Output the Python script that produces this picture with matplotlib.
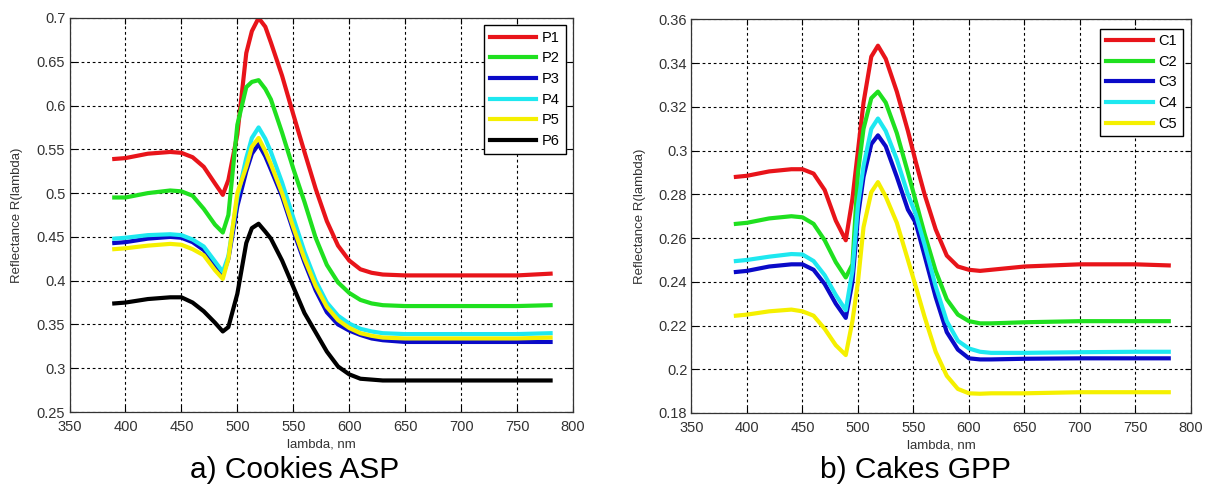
import matplotlib
matplotlib.use("Agg")
import matplotlib.pyplot as plt

plt.rcParams['font.family'] = ['Liberation Sans', 'DejaVu Sans']

# a) Cookies ASP
wl_a = [390, 400, 420, 440, 450, 460, 470, 480, 487, 492, 500, 508, 513, 519, 525,
        530, 540, 550, 560, 570, 580, 590, 600, 610, 620, 630, 650, 700, 750, 780]
P1 = [.539, .540, .545, .547, .546, .541, .530, .511, .498, .515, .567, .660, .685, .700, .690,
      .672, .634, .590, .547, .505, .468, .440, .423, .413, .409, .407, .406, .406, .406, .408]
P2 = [.495, .495, .500, .503, .502, .497, .482, .464, .455, .475, .578, .621, .627, .629, .619,
      .607, .569, .528, .490, .449, .418, .398, .386, .378, .374, .372, .371, .371, .371, .372]
P3 = [.443, .444, .448, .450, .449, .444, .435, .418, .407, .425, .485, .525, .545, .556, .542,
      .527, .496, .457, .421, .389, .364, .350, .343, .338, .334, .332, .330, .330, .330, .330]
P4 = [.448, .449, .452, .453, .452, .447, .439, .422, .410, .428, .495, .540, .563, .575, .562,
      .547, .512, .472, .433, .400, .375, .360, .351, .345, .342, .340, .339, .339, .339, .340]
P5 = [.436, .437, .440, .442, .441, .436, .429, .412, .402, .425, .500, .530, .553, .563, .548,
      .533, .500, .461, .425, .394, .370, .355, .346, .340, .337, .335, .334, .334, .334, .335]
P6 = [.374, .375, .379, .381, .381, .375, .365, .352, .342, .347, .385, .443, .460, .465, .456,
      .448, .423, .393, .363, .341, .319, .302, .293, .288, .287, .286, .286, .286, .286, .286]
names_a = ['P1', 'P2', 'P3', 'P4', 'P5', 'P6']
yticks_a = [0.25, 0.3, 0.35, 0.4, 0.45, 0.5, 0.55, 0.6, 0.65, 0.7]
ylabels_a = ['0.25', '0.3', '0.35', '0.4', '0.45', '0.5', '0.55', '0.6', '0.65', '0.7']

# b) Cakes GPP
wl_b = [390, 400, 420, 440, 450, 460, 470, 480, 489, 495, 500, 505, 512, 518, 525,
        535, 545, 552, 560, 570, 580, 590, 600, 610, 620, 650, 700, 750, 780]
C1 = [.288, .2885, .2905, .2915, .2915, .2895, .282, .268, .259, .278, .300, .322, .343, .348, .342,
      .327, .309, .295, .280, .264, .252, .247, .2455, .245, .2455, .247, .248, .248, .2475]
C2 = [.2665, .267, .269, .270, .2695, .2665, .259, .249, .242, .248, .290, .310, .324, .327, .322,
      .308, .290, .277, .262, .245, .232, .225, .222, .221, .221, .2215, .222, .222, .222]
C3 = [.2445, .245, .247, .248, .248, .2455, .239, .230, .2235, .240, .270, .288, .303, .307, .302,
      .288, .273, .267, .252, .233, .217, .209, .205, .2045, .2045, .2048, .205, .205, .205]
C4 = [.2495, .250, .2515, .2527, .2525, .2495, .243, .234, .227, .245, .275, .293, .310, .3147, .309,
      .296, .280, .271, .257, .238, .222, .213, .2095, .208, .2075, .2075, .2078, .208, .208]
C5 = [.2245, .225, .2265, .2273, .2265, .2245, .2185, .211, .2065, .222, .240, .265, .281, .2856, .279,
      .267, .250, .238, .224, .208, .197, .191, .189, .1888, .189, .189, .1895, .1895, .1895]
names_b = ['C1', 'C2', 'C3', 'C4', 'C5']
yticks_b = [0.18, 0.2, 0.22, 0.24, 0.26, 0.28, 0.3, 0.32, 0.34, 0.36]
ylabels_b = ['0.18', '0.2', '0.22', '0.24', '0.26', '0.28', '0.3', '0.32', '0.34', '0.36']

xticks = [350, 400, 450, 500, 550, 600, 650, 700, 750, 800]
colors = ['#e8141a', '#1fe01f', '#0a0ac8', '#1ee8f0', '#f5f000', '#000000']

fig = plt.figure(figsize=(12.07, 4.93), dpi=100)
ax1 = fig.add_axes([0.0576, 0.1643, 0.4171, 0.7992])
ax2 = fig.add_axes([0.5729, 0.1623, 0.4138, 0.7982])


def style(ax, yt, yl, ylim):
    ax.set_xlim(350, 800)
    ax.set_ylim(*ylim)
    ax.set_xticks(xticks)
    ax.set_yticks(yt)
    ax.set_yticklabels(yl)
    ax.grid(True, color='k', linestyle=(0, (2.5, 2.5)), linewidth=0.8)
    ax.tick_params(direction='in', length=4, top=True, right=True,
                   labelsize=10.5, labelcolor='#333333', pad=3)
    ax.tick_params(axis='x', pad=6)
    for s in ax.spines.values():
        s.set_linewidth(0.9)
        s.set_color('#333333')
    ax.set_xlabel('lambda, nm', fontsize=9.5, color='#333333')
    ax.set_ylabel('Reflectance R(lambda)', fontsize=9.5, color='#333333')
    ax.xaxis.set_label_coords(0.5, -0.068)
    ax.yaxis.set_label_coords(-0.092, 0.5)


for y, c, n in zip([P1, P2, P3, P4, P5, P6], colors, names_a):
    ax1.plot(wl_a, y, color=c, lw=3, label=n)
style(ax1, yticks_a, ylabels_a, (0.25, 0.7))
ax1.legend(loc='upper right', bbox_to_anchor=(0.986, 0.982), fancybox=False,
           edgecolor='k', framealpha=1, fontsize=10.5, handlelength=3.2,
           labelspacing=0.45, borderaxespad=0, handletextpad=0.4)

for y, c, n in zip([C1, C2, C3, C4, C5], colors, names_b):
    ax2.plot(wl_b, y, color=c, lw=3, label=n)
style(ax2, yticks_b, ylabels_b, (0.18, 0.36))
ax2.legend(loc='upper right', bbox_to_anchor=(0.984, 0.977), fancybox=False,
           edgecolor='k', framealpha=1, fontsize=10.5, handlelength=3.2,
           labelspacing=0.45, borderaxespad=0, handletextpad=0.4)

fig.text(294.6 / 1207, 1 - 470 / 493, 'a) Cookies ASP', fontsize=21.5, ha='center', va='center')
fig.text(916 / 1207, 1 - 470 / 493, 'b) Cakes GPP', fontsize=21.5, ha='center', va='center')

fig.savefig('out.png', dpi=100)
